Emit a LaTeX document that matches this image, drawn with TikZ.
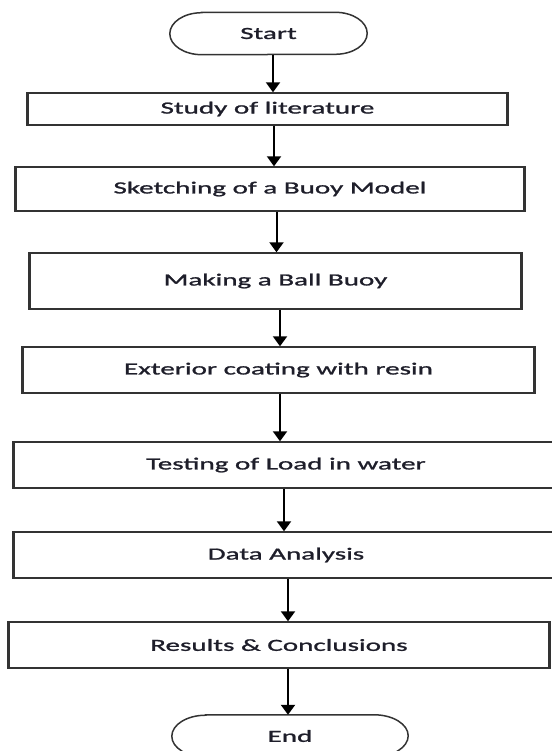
\documentclass[tikz,border=0pt]{standalone}
\usepackage{fontspec}
\setmainfont{Carlito}[FakeStretch=1.71,FakeBold=1.3]
\usetikzlibrary{arrows.meta}
\definecolor{edge}{HTML}{333333}
\definecolor{txt}{HTML}{1E1E2A}
\begin{document}
\begin{tikzpicture}[x=1pt,y=1pt,
  every node/.style={font=\fontsize{17}{20}\selectfont, text=txt},
  procbox/.style={draw=edge, line width=1.4pt, rectangle, inner sep=0pt},
  termbox/.style={rectangle, inner sep=0pt, minimum height=42pt},
  termline/.style={draw=edge, line width=1.5pt},
  flow/.style={draw=black, line width=2pt, -{Triangle[width=14pt,length=10pt]}},
  side/.style={draw=edge, line width=2.8pt}]
\useasboundingbox (0,0) rectangle (551,-751);

\node[termbox, minimum width=197pt] (start) at (268.5,-33.5) {Start};
\node[procbox, minimum width=479pt, minimum height=32pt] (study) at (267.5,-109) {Study of literature};
\node[procbox, minimum width=508pt, minimum height=44pt] (sketch) at (270,-189) {Sketching of a Buoy Model};
\node[procbox, minimum width=491pt, minimum height=56pt] (making) at (275.5,-281) {Making a Ball Buoy};
\node[procbox, minimum width=511pt, minimum height=46pt] (exterior) at (278.5,-370) {Exterior coating with resin};
\node[procbox, minimum width=544pt, minimum height=46pt] (testing) at (286,-465) {Testing of Load in water};
\node[procbox, minimum width=544pt, minimum height=46pt] (data) at (286,-555) {Data Analysis};
\node[procbox, minimum width=540pt, minimum height=46pt] (results) at (279,-645) {Results \& Conclusions};
\node[termbox, minimum width=236pt] (end) at (290,-736) {End};

% thicker vertical sides of the process boxes
\foreach \n in {study,sketch,making,exterior,testing,data,results}
  \draw[side] (\n.north west) -- (\n.south west) (\n.north east) -- (\n.south east);

% terminal outlines
\foreach \n/\r in {start/32,end/34}
  \draw[termline] ([xshift=\r pt]\n.north west) -- ([xshift=-\r pt]\n.north east)
    arc[start angle=90, end angle=-90, x radius=\r pt, y radius=21pt]
    -- ([xshift=\r pt]\n.south west)
    arc[start angle=270, end angle=90, x radius=\r pt, y radius=21pt] -- cycle;

% connectors
\draw[flow] (start.south -| 273,0) -- (study.north -| 273,0);
\draw[flow] (study.south -| 274,0) -- (sketch.north -| 274,0);
\draw[flow] (sketch.south -| 276.5,0) -- (making.north -| 276.5,0);
\draw[flow] (making.south -| 280,0) -- (exterior.north -| 280,0);
\draw[flow] (exterior.south -| 280,0) -- (testing.north -| 280,0);
\draw[flow] (testing.south -| 284,0) -- (data.north -| 284,0);
\draw[flow] (data.south -| 288,0) -- (results.north -| 288,0);
\draw[flow] (results.south -| 288,0) -- (end.north -| 288,0);
\end{tikzpicture}
\end{document}
